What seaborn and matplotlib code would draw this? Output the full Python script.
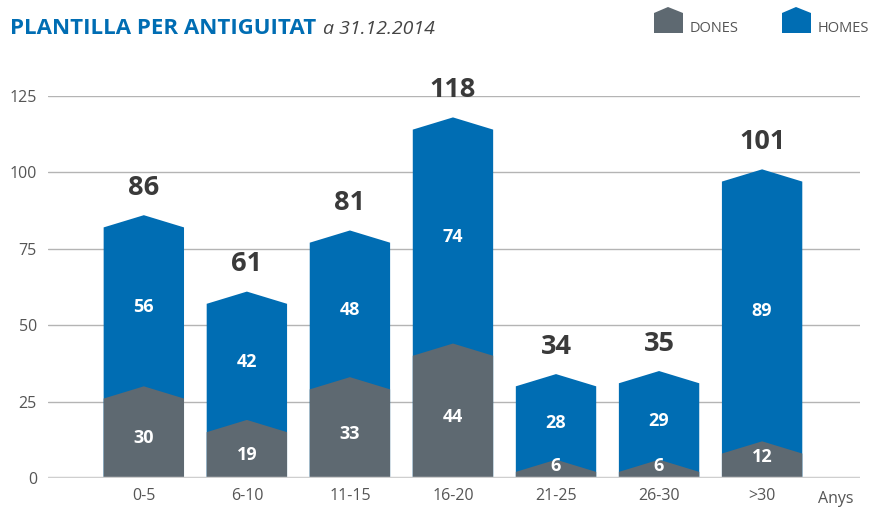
import matplotlib
matplotlib.use("Agg")
import matplotlib.pyplot as plt
from matplotlib.patches import Polygon
import seaborn as sns
import pandas as pd

# Headcount by years of service
categories = ["0-5", "6-10", "11-15", "16-20", "21-25", "26-30", ">30"]
dones = [30, 19, 33, 44, 6, 6, 12]
homes = [56, 42, 48, 74, 28, 29, 89]
totals = [86, 61, 81, 118, 34, 35, 101]
yticks = [0, 25, 50, 75, 100, 125]

BLUE = "#006db3"
GREY = "#5e6971"
TXT = "#555555"
PEAK = 4.0  # height of the roof on each bar, in data units

sns.set_theme(style="white")
plt.rcParams["font.family"] = ["Open Sans", "DejaVu Sans"]

df = pd.DataFrame({"cat": categories, "dones": dones, "homes": homes, "total": totals})

fig = plt.figure(figsize=(8.82, 5.08), dpi=100)
ax = fig.add_axes([48 / 882, 1 - 478 / 508, (860 - 48) / 882, (478 - 96) / 508])

sns.barplot(data=df, x="cat", y="total", order=categories, color=BLUE,
            width=0.78, ax=ax, saturation=1, zorder=2)
sns.barplot(data=df, x="cat", y="dones", order=categories, color=GREY,
            width=0.78, ax=ax, saturation=1, zorder=3)

# Turn each rectangular bar into a house-shaped pentagon
rects = list(ax.patches)
for r in rects:
    x0, w, h = r.get_x(), r.get_width(), r.get_height()
    col = r.get_facecolor()
    z = r.get_zorder()
    r.remove()
    ax.add_patch(Polygon([(x0, 0), (x0, h - PEAK), (x0 + w / 2, h),
                          (x0 + w, h - PEAK), (x0 + w, 0)],
                         closed=True, facecolor=col, edgecolor="none", zorder=z))

ax.set_xlim(-0.93, 6.95)
ax.set_ylim(0, 125)

# Grid lines and baseline
for t in yticks[1:]:
    ax.axhline(t, color="#b4b4b4", lw=1.0, zorder=1)
ax.axhline(0, color="#cfcfcf", lw=2.5, zorder=4)

for s in ax.spines.values():
    s.set_visible(False)
ax.set_yticks(yticks)
ax.set_yticklabels([str(t) for t in yticks], fontsize=11.5, color=TXT)
ax.tick_params(axis="y", length=0, pad=8)
ax.tick_params(axis="x", length=0, pad=7, labelsize=11.5, labelcolor=TXT)
ax.set_xlabel("")
ax.set_ylabel("")
ax.text(6.71, -0.033, "Anys", transform=ax.get_xaxis_transform(),
        ha="center", va="top", fontsize=11.5, color=TXT)

# Value labels
for i in range(len(categories)):
    ax.text(i, totals[i] + 9, str(totals[i]), ha="center", va="center",
            fontsize=19.5, fontweight="bold", color="#3a3a3a", clip_on=False)
    ax.text(i, (dones[i] + totals[i]) / 2 - 2, str(homes[i]), ha="center",
            va="center", fontsize=13, fontweight="bold", color="white", zorder=5)
    yd = dones[i] / 2 - 2 if dones[i] > 15 else dones[i] / 2 + 1
    ax.text(i, yd, str(dones[i]), ha="center", va="center", fontsize=13,
            fontweight="bold", color="white", zorder=5)

# Title
title = fig.text(10 / 882, 1 - 28 / 508, "PLANTILLA PER ANTIGUITAT", ha="left",
                 va="center", fontsize=16, fontweight="bold", color=BLUE)
fig.canvas.draw()
bb = title.get_window_extent()
fig.text((bb.x1 + 7) / 882, 1 - 29 / 508, "a 31.12.2014", ha="left", va="center",
         fontsize=14, style="italic", color="#444444")

# Legend with house-shaped keys
def house(x0, col):
    pts = [(x0, 33), (x0, 13), (x0 + 14, 7), (x0 + 29, 13), (x0 + 29, 33)]
    pts = [(px / 882, 1 - py / 508) for px, py in pts]
    fig.add_artist(Polygon(pts, closed=True, transform=fig.transFigure,
                           facecolor=col, edgecolor="none"))

house(654, GREY)
house(782, BLUE)
fig.text(690 / 882, 1 - 28 / 508, "DONES", ha="left", va="center", fontsize=10.5, color=TXT)
fig.text(818 / 882, 1 - 28 / 508, "HOMES", ha="left", va="center", fontsize=10.5, color=TXT)

fig.savefig("out.png", dpi=100)
